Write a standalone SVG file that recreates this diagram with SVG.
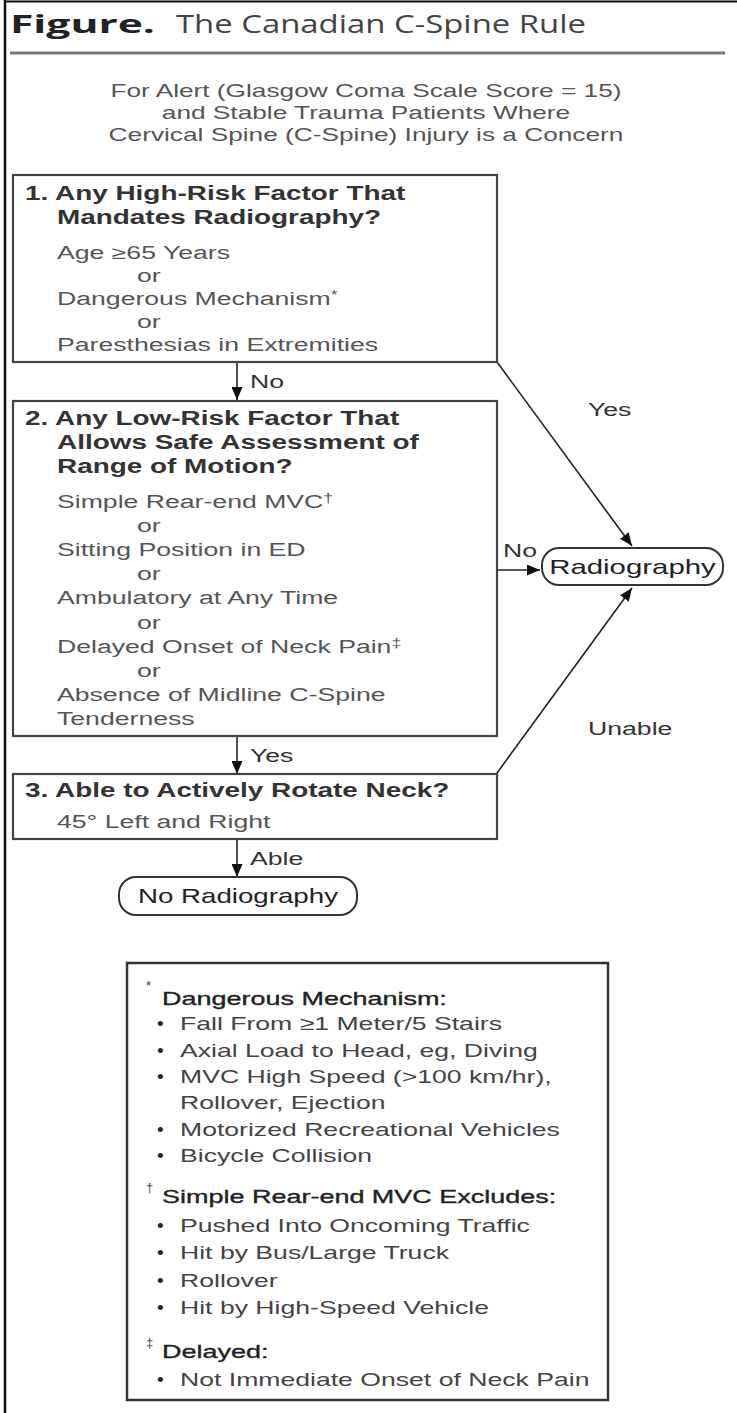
<svg xmlns="http://www.w3.org/2000/svg" width="737" height="1413" viewBox="0 0 737 1413">
<defs>
<style>
text{font-family:"Liberation Sans",Arial,Helvetica,sans-serif;}
.ttl{font-family:"Open Sans","Liberation Sans",sans-serif;font-size:25px;fill:#444;}
.sub{font-size:17.5px;fill:#555;text-anchor:middle;}
.q{font-size:21px;font-weight:bold;fill:#333;}
.it{font-size:18px;fill:#555;}
.lab{font-size:18px;fill:#333;}
.pill{font-size:20px;fill:#222;text-anchor:middle;}
.lg{font-size:19px;fill:#444;}
.bul{font-size:19px;fill:#222;}
.lh{font-size:19px;fill:#222;stroke:#222;stroke-width:0.35;}
.sup{font-size:12px;}
.box{fill:#fff;stroke:#444;stroke-width:2.2;}
.rbox{fill:#fff;stroke:#333;stroke-width:2;}
.con{fill:none;stroke:#222;stroke-width:1.6;marker-end:url(#ah);}
</style>
<marker id="ah" markerUnits="userSpaceOnUse" markerWidth="13" markerHeight="11" refX="13" refY="5.5" orient="auto">
<path d="M0,0 L13,5.5 L0,11 z" fill="#111"/>
</marker>
</defs>
<rect x="0" y="0" width="737" height="1413" fill="#fff"/>
<g id="frame">
<line x1="4" y1="1.5" x2="737" y2="1.5" stroke="#111" stroke-width="2"/>
<line x1="5" y1="0" x2="5" y2="1413" stroke="#111" stroke-width="2.5"/>
<line x1="10" y1="53" x2="725" y2="53" stroke="#777" stroke-width="3"/>
</g>
<g id="title">
<text class="ttl" x="10" y="33" font-weight="bold" style="fill:#222" textLength="145" lengthAdjust="spacingAndGlyphs">Figure.</text>
<text class="ttl" x="176" y="33" textLength="410" lengthAdjust="spacingAndGlyphs">The Canadian C-Spine Rule</text>
</g>
<g id="subtitle" transform="matrix(1.5 0 0 1 -183 0)">
<text class="sub" x="366" y="97">For Alert (Glasgow Coma Scale Score = 15)</text>
<text class="sub" x="366" y="119">and Stable Trauma Patients Where</text>
<text class="sub" x="366" y="141">Cervical Spine (C-Spine) Injury is a Concern</text>
</g>
<g id="connectors">
<line class="con" x1="237" y1="362" x2="237" y2="400"/>
<line class="con" x1="237" y1="736" x2="237" y2="774"/>
<line class="con" x1="237" y1="839" x2="237" y2="877"/>
<line class="con" x1="497" y1="362" x2="632" y2="546"/>
<line class="con" x1="497" y1="570" x2="540" y2="570"/>
<line class="con" x1="497" y1="773" x2="632" y2="588"/>
<text class="lab" x="250" y="388" transform="matrix(1.48 0 0 1 -120 0)">No</text>
<text class="lab" x="250" y="762" transform="matrix(1.48 0 0 1 -120 0)">Yes</text>
<text class="lab" x="250" y="865" transform="matrix(1.48 0 0 1 -120 0)">Able</text>
<text class="lab" x="588" y="416" transform="matrix(1.48 0 0 1 -282.24 0)">Yes</text>
<text class="lab" x="503" y="557" transform="matrix(1.48 0 0 1 -241.44 0)">No</text>
<text class="lab" x="588" y="735" transform="matrix(1.48 0 0 1 -282.24 0)">Unable</text>
</g>
<g id="node-q1">
<rect class="box" x="13" y="175" width="484" height="187"/>
<text class="q" x="25" y="200" transform="matrix(1.33 0 0 1 -8.25 0)">1. Any High-Risk Factor That</text>
<text class="q" x="57" y="224" transform="matrix(1.33 0 0 1 -18.81 0)">Mandates Radiography?</text>
<text class="it" x="57" y="259" transform="matrix(1.48 0 0 1 -27.36 0)">Age ≥65 Years</text>
<text class="it" x="137" y="282" transform="matrix(1.48 0 0 1 -65.76 0)">or</text>
<text class="it" x="57" y="305" transform="matrix(1.48 0 0 1 -27.36 0)">Dangerous Mechanism<tspan class="sup" dy="-6">*</tspan></text>
<text class="it" x="137" y="328" transform="matrix(1.48 0 0 1 -65.76 0)">or</text>
<text class="it" x="57" y="351" transform="matrix(1.48 0 0 1 -27.36 0)">Paresthesias in Extremities</text>
</g>
<g id="node-q2">
<rect class="box" x="13" y="401" width="484" height="335"/>
<text class="q" x="25" y="425" transform="matrix(1.33 0 0 1 -8.25 0)">2. Any Low-Risk Factor That</text>
<text class="q" x="57" y="449" transform="matrix(1.33 0 0 1 -18.81 0)">Allows Safe Assessment of</text>
<text class="q" x="57" y="473" transform="matrix(1.33 0 0 1 -18.81 0)">Range of Motion?</text>
<text class="it" x="57" y="508" transform="matrix(1.48 0 0 1 -27.36 0)">Simple Rear-end MVC<tspan class="sup" dy="-6">†</tspan></text>
<text class="it" x="137" y="532" transform="matrix(1.48 0 0 1 -65.76 0)">or</text>
<text class="it" x="57" y="556" transform="matrix(1.48 0 0 1 -27.36 0)">Sitting Position in ED</text>
<text class="it" x="137" y="580" transform="matrix(1.48 0 0 1 -65.76 0)">or</text>
<text class="it" x="57" y="604" transform="matrix(1.48 0 0 1 -27.36 0)">Ambulatory at Any Time</text>
<text class="it" x="137" y="629" transform="matrix(1.48 0 0 1 -65.76 0)">or</text>
<text class="it" x="57" y="653" transform="matrix(1.48 0 0 1 -27.36 0)">Delayed Onset of Neck Pain<tspan class="sup" dy="-6">‡</tspan></text>
<text class="it" x="137" y="677" transform="matrix(1.48 0 0 1 -65.76 0)">or</text>
<text class="it" x="57" y="701" transform="matrix(1.48 0 0 1 -27.36 0)">Absence of Midline C-Spine</text>
<text class="it" x="57" y="725" transform="matrix(1.48 0 0 1 -27.36 0)">Tenderness</text>
</g>
<g id="node-q3">
<rect class="box" x="13" y="774" width="484" height="65"/>
<text class="q" x="25" y="797" transform="matrix(1.33 0 0 1 -8.25 0)">3. Able to Actively Rotate Neck?</text>
<text class="it" x="57" y="828" transform="matrix(1.48 0 0 1 -27.36 0)">45° Left and Right</text>
</g>
<g id="node-radiography">
<rect class="rbox" x="542" y="548" width="181" height="37" rx="17"/>
<text class="pill" x="632.5" y="574" style="font-size:21px" transform="matrix(1.4 0 0 1 -253 0)">Radiography</text>
</g>
<g id="node-no-radiography">
<rect class="rbox" x="119" y="877" width="238" height="38" rx="17"/>
<text class="pill" x="238" y="903" transform="matrix(1.385 0 0 1 -91.63 0)">No Radiography</text>
</g>
<g id="legend">
<rect x="127" y="963" width="481" height="437" fill="#fff" stroke="#333" stroke-width="2.5"/>
<text class="lg sup" x="146" y="990" style="font-size:13px">*</text>
<text class="lh" x="162" y="1005" transform="matrix(1.42 0 0 1 -68.04 0)">Dangerous Mechanism:</text>
<text class="bul" x="157" y="1030">•</text>
<text class="lg" x="180" y="1030" transform="matrix(1.4 0 0 1 -72 0)">Fall From ≥1 Meter/5 Stairs</text>
<text class="bul" x="157" y="1057">•</text>
<text class="lg" x="180" y="1057" transform="matrix(1.4 0 0 1 -72 0)">Axial Load to Head, eg, Diving</text>
<text class="bul" x="157" y="1083">•</text>
<text class="lg" x="180" y="1083" transform="matrix(1.4 0 0 1 -72 0)">MVC High Speed (&gt;100 km/hr),</text>
<text class="lg" x="180" y="1109" transform="matrix(1.4 0 0 1 -72 0)">Rollover, Ejection</text>
<text class="bul" x="157" y="1136">•</text>
<text class="lg" x="180" y="1136" transform="matrix(1.4 0 0 1 -72 0)">Motorized Recreational Vehicles</text>
<text class="bul" x="157" y="1162">•</text>
<text class="lg" x="180" y="1162" transform="matrix(1.4 0 0 1 -72 0)">Bicycle Collision</text>
<text class="lg sup" x="146" y="1192" style="font-size:13px">†</text>
<text class="lh" x="162" y="1203" transform="matrix(1.42 0 0 1 -68.04 0)">Simple Rear-end MVC Excludes:</text>
<text class="bul" x="157" y="1232">•</text>
<text class="lg" x="180" y="1232" transform="matrix(1.4 0 0 1 -72 0)">Pushed Into Oncoming Traffic</text>
<text class="bul" x="157" y="1259">•</text>
<text class="lg" x="180" y="1259" transform="matrix(1.4 0 0 1 -72 0)">Hit by Bus/Large Truck</text>
<text class="bul" x="157" y="1287">•</text>
<text class="lg" x="180" y="1287" transform="matrix(1.4 0 0 1 -72 0)">Rollover</text>
<text class="bul" x="157" y="1314">•</text>
<text class="lg" x="180" y="1314" transform="matrix(1.4 0 0 1 -72 0)">Hit by High-Speed Vehicle</text>
<text class="lg sup" x="146" y="1347" style="font-size:13px">‡</text>
<text class="lh" x="162" y="1358" transform="matrix(1.42 0 0 1 -68.04 0)">Delayed:</text>
<text class="bul" x="157" y="1386">•</text>
<text class="lg" x="180" y="1386" transform="matrix(1.4 0 0 1 -72 0)">Not Immediate Onset of Neck Pain</text>
</g>
</svg>
